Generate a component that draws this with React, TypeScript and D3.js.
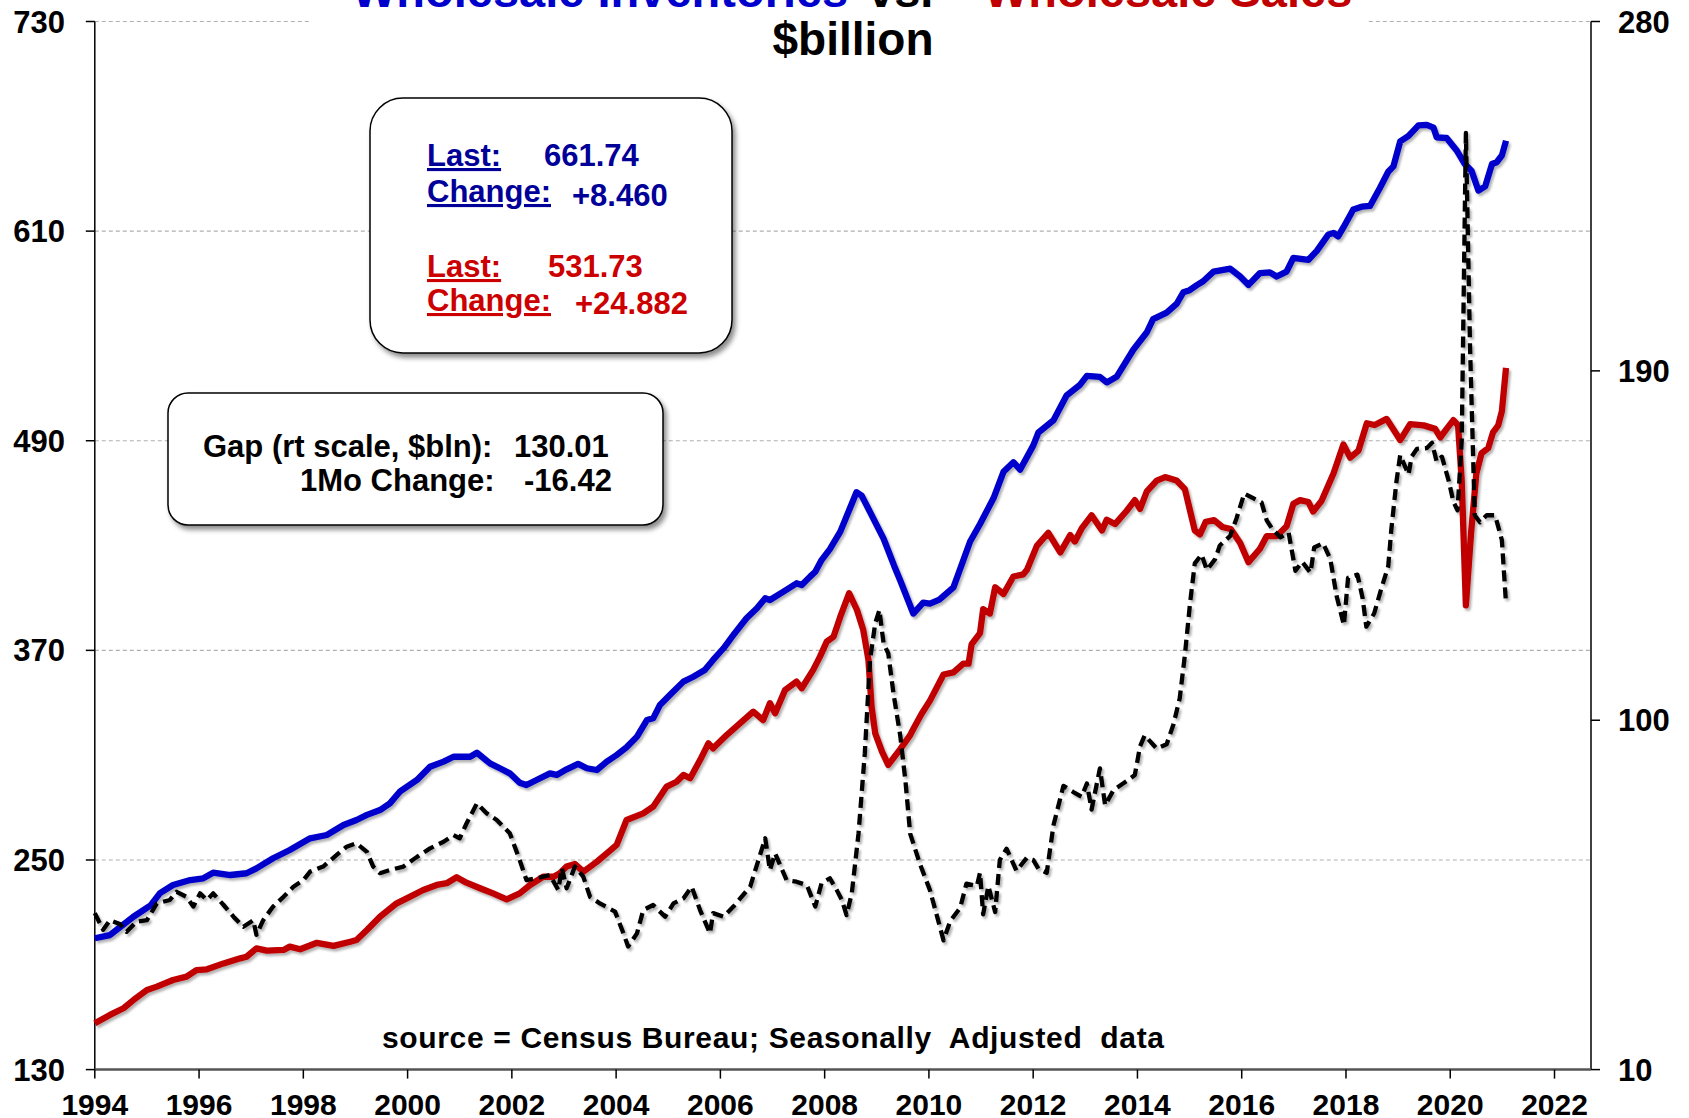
import React from "react";
import * as d3 from "d3";

// chart size, matches the browser window
const W = 1689;
const H = 1118;
const plot = { left: 94.8, right: 1591, top: 21.5, bottom: 1069.6 };

const leftTicks = [130, 250, 370, 490, 610, 730];
const rightTicks = [10, 100, 190, 280];
const yearTicks = [1994, 1996, 1998, 2000, 2002, 2004, 2006, 2008, 2010, 2012, 2014, 2016, 2018, 2020, 2022];

// [decimal year, $bln]
const inventories: [number, number][] = [
  [1994.0, 205.2], [1994.29, 207], [1994.42, 210], [1994.74, 217.5], [1995.07, 224], [1995.25, 231],
  [1995.5, 235.7], [1995.83, 238.5], [1996.08, 239.5], [1996.27, 242.7], [1996.6, 241.4], [1996.91, 242.4],
  [1997.1, 245.2], [1997.42, 251], [1997.74, 255.7], [1998.13, 262.4], [1998.45, 264.3], [1998.77, 270],
  [1999.02, 272.9], [1999.22, 275.8], [1999.47, 278.6], [1999.66, 282.4], [1999.85, 289.1], [2000.18, 295.8],
  [2000.43, 303.4], [2000.69, 306.3], [2000.88, 309.1], [2001.2, 309.1], [2001.33, 311.4], [2001.58, 305.3],
  [2001.77, 302.5], [2001.96, 299.6], [2002.15, 294.2], [2002.28, 292.9], [2002.54, 296.8], [2002.73, 299.6],
  [2002.86, 298.7], [2003.05, 301.9], [2003.27, 305], [2003.44, 302.5], [2003.63, 301.5], [2003.82, 306.3],
  [2004.01, 310.1], [2004.2, 314.5], [2004.4, 320.6], [2004.59, 330.1], [2004.71, 331.1], [2004.84, 338.7],
  [2005.03, 344.4], [2005.29, 352.1], [2005.48, 354.9], [2005.7, 358.8], [2005.86, 364.5], [2006.06, 371.2],
  [2006.25, 378.8], [2006.5, 388.4], [2006.7, 394.1], [2006.86, 399.8], [2006.95, 398.8], [2007.21, 403.6],
  [2007.46, 408.4], [2007.56, 407.4], [2007.72, 412.2], [2007.82, 415], [2007.94, 421.7], [2008.1, 428],
  [2008.3, 438], [2008.5, 452.5], [2008.61, 460.5], [2008.71, 458.6], [2008.92, 446.3], [2009.13, 434],
  [2009.33, 418.6], [2009.45, 410], [2009.7, 391.1], [2009.89, 397.3], [2010.02, 396.8], [2010.2, 399],
  [2010.47, 406.1], [2010.79, 432.3], [2010.98, 442.3], [2011.24, 457.2], [2011.43, 472.2], [2011.62, 477.7],
  [2011.75, 473.5], [2012.0, 487.2], [2012.1, 494.7], [2012.39, 501.7], [2012.64, 515.9], [2012.9, 522.1],
  [2013.03, 527.1], [2013.28, 526.6], [2013.41, 523.4], [2013.6, 526.6], [2013.92, 542.1], [2014.18, 552.1],
  [2014.3, 559.6], [2014.56, 563.3], [2014.75, 568.3], [2014.88, 575], [2015.0, 576.2], [2015.14, 579.1],
  [2015.26, 581.3], [2015.46, 586.8], [2015.78, 588.5], [2015.97, 584], [2016.13, 579.2], [2016.35, 586],
  [2016.54, 586.4], [2016.67, 584], [2016.86, 586.8], [2016.99, 594.7], [2017.28, 593.6], [2017.44, 598.7],
  [2017.66, 608], [2017.76, 609], [2017.85, 607], [2017.95, 612.1], [2018.14, 622.4], [2018.3, 624],
  [2018.46, 624.4], [2018.65, 634.7], [2018.81, 644], [2018.91, 647.1], [2019.04, 661.4], [2019.2, 664.5],
  [2019.39, 670.5], [2019.55, 670.8], [2019.68, 669.2], [2019.74, 663.7], [2019.93, 663.3], [2020.12, 656.3],
  [2020.28, 648.4], [2020.41, 644.4], [2020.54, 633.2], [2020.67, 635.6], [2020.8, 648.4], [2020.89, 649.4],
  [2020.99, 653.28], [2021.07, 661.74],
];

const sales: [number, number][] = [
  [1994.0, 156.5], [1994.29, 161.3], [1994.55, 165.1], [1994.74, 169.8], [1995.0, 175.6], [1995.19, 177.5],
  [1995.5, 181.3], [1995.76, 183.2], [1995.95, 187], [1996.15, 187.4], [1996.47, 190.8], [1996.79, 193.7],
  [1996.91, 194.6], [1997.1, 199.4], [1997.3, 198.1], [1997.62, 198.5], [1997.74, 200.4], [1997.94, 198.9],
  [1998.26, 202.6], [1998.58, 200.8], [1998.9, 203.2], [1999.02, 204.2], [1999.22, 209.9], [1999.47, 217.5],
  [1999.79, 225.2], [2000.05, 229], [2000.3, 232.8], [2000.56, 235.7], [2000.75, 236.7], [2000.94, 240.1],
  [2001.13, 237], [2001.39, 233.8], [2001.64, 230.9], [2001.9, 227.5], [2002.15, 230.9], [2002.35, 235.7],
  [2002.6, 240.4], [2002.8, 240.4], [2002.92, 242.4], [2003.05, 246.2], [2003.21, 247.7], [2003.37, 243.3],
  [2003.63, 249], [2003.82, 253.8], [2004.01, 258.6], [2004.2, 272.9], [2004.52, 276.7], [2004.71, 280.5],
  [2004.97, 292], [2005.16, 294.8], [2005.29, 298.7], [2005.42, 296.8], [2005.61, 307.2], [2005.77, 316.8],
  [2005.86, 313.9], [2006.12, 321.5], [2006.38, 328.3], [2006.63, 334.9], [2006.82, 330.1], [2006.95, 339.7],
  [2007.05, 334], [2007.24, 347.3], [2007.46, 352.1], [2007.56, 348.3], [2007.78, 358.8], [2007.91, 366.4],
  [2008.04, 375], [2008.17, 377.8], [2008.3, 389.3], [2008.47, 402.7], [2008.62, 393.1], [2008.74, 381.7],
  [2008.84, 364.5], [2008.9, 337.8], [2008.97, 322.5], [2009.1, 312], [2009.22, 304.4], [2009.45, 313.5],
  [2009.64, 321.5], [2009.7, 325], [2009.86, 333.7], [2010.02, 341.2], [2010.28, 356.2], [2010.47, 357.4],
  [2010.66, 362.4], [2010.76, 362.4], [2010.82, 373.6], [2010.98, 379.9], [2011.04, 393.6], [2011.17, 391.1],
  [2011.27, 406.1], [2011.43, 402.3], [2011.62, 412.3], [2011.81, 413.5], [2011.88, 416.1], [2012.07, 429.8],
  [2012.29, 437.3], [2012.52, 426.1], [2012.71, 436], [2012.8, 432.3], [2012.93, 439.8], [2013.12, 447.3],
  [2013.32, 438.6], [2013.41, 444.8], [2013.57, 442.3], [2013.79, 449.8], [2013.95, 456], [2014.05, 451],
  [2014.18, 461], [2014.37, 467.2], [2014.53, 469.2], [2014.75, 467.2], [2014.91, 462.3], [2015.01, 449.8],
  [2015.1, 438.6], [2015.2, 436.4], [2015.31, 443.6], [2015.47, 444.6], [2015.63, 440.6], [2015.79, 439.5],
  [2015.97, 431.5], [2016.13, 420.5], [2016.35, 428.2], [2016.48, 435.4], [2016.67, 435.4], [2016.86, 441],
  [2016.99, 453.9], [2017.12, 456], [2017.28, 454.9], [2017.37, 449.5], [2017.53, 455.5], [2017.76, 471.3],
  [2017.95, 487.9], [2018.08, 480.3], [2018.24, 484.4], [2018.4, 500], [2018.55, 499], [2018.78, 502.5],
  [2019.04, 490.4], [2019.23, 499.5], [2019.49, 498.8], [2019.71, 496.8], [2019.81, 491.9], [2019.93, 496.8],
  [2020.06, 501.8], [2020.15, 498.8], [2020.22, 467.1], [2020.3, 395.8], [2020.4, 437.4], [2020.5, 471.1],
  [2020.6, 482.9], [2020.73, 485.9], [2020.82, 494.8], [2020.92, 498.8], [2020.99, 506.85], [2021.07, 531.73],
];

// inventories minus sales, right scale
const gap: [number, number][] = [
  [1994.0, 50.3], [1994.16, 46], [1994.29, 48.5], [1994.48, 47.5], [1994.61, 45.5], [1994.8, 48.1],
  [1995.0, 48.5], [1995.19, 52.8], [1995.44, 53.7], [1995.57, 55.8], [1995.76, 54.5], [1995.89, 52],
  [1996.02, 55.4], [1996.15, 53.7], [1996.27, 55.4], [1996.47, 52.4], [1996.66, 49.4], [1996.85, 46.8],
  [1997.04, 48.5], [1997.1, 44.7], [1997.23, 48.5], [1997.42, 52], [1997.62, 54.5], [1997.81, 57.1],
  [1998.0, 58.8], [1998.13, 61], [1998.38, 62.3], [1998.64, 65.3], [1998.83, 67.4], [1999.02, 68.3],
  [1999.22, 66.1], [1999.34, 62.3], [1999.47, 60.6], [1999.66, 61.4], [1999.92, 62.3], [2000.18, 64.8],
  [2000.43, 67], [2000.69, 68.7], [2000.88, 70.4], [2001.0, 69.6], [2001.13, 73.4], [2001.33, 78.6],
  [2001.52, 76], [2001.71, 74.3], [2001.9, 71.7], [2001.96, 70.9], [2002.15, 64], [2002.28, 58.8],
  [2002.48, 59.3], [2002.73, 60.1], [2002.89, 56.3], [2002.96, 61.9], [2003.05, 56.7], [2003.21, 62.3],
  [2003.37, 59.7], [2003.5, 54.5], [2003.69, 52.8], [2003.98, 50.7], [2004.14, 45.1], [2004.23, 41.7],
  [2004.4, 45.1], [2004.52, 51.1], [2004.71, 52.4], [2004.94, 49.4], [2005.1, 52.8], [2005.29, 54.1],
  [2005.45, 57.1], [2005.61, 51.1], [2005.8, 45.1], [2005.86, 50.3], [2006.06, 49.4], [2006.25, 52],
  [2006.38, 54.1], [2006.57, 57.1], [2006.73, 64], [2006.86, 69.6], [2006.95, 61.4], [2007.05, 65.7],
  [2007.27, 58.8], [2007.46, 58.4], [2007.66, 57.5], [2007.82, 52], [2007.94, 58], [2008.1, 59.3],
  [2008.23, 56.3], [2008.33, 53.7], [2008.42, 49.8], [2008.52, 55.4], [2008.65, 70.9], [2008.77, 91.5],
  [2008.87, 115.5], [2008.97, 125], [2009.05, 128.4], [2009.13, 119.8], [2009.22, 117.2], [2009.32, 106.9],
  [2009.45, 96], [2009.55, 84.3], [2009.64, 70.8], [2009.83, 62.9], [2010.02, 56.2], [2010.18, 48.3],
  [2010.28, 43.3], [2010.41, 48.3], [2010.6, 51.7], [2010.72, 57.9], [2010.92, 57.3], [2010.98, 60.7],
  [2011.04, 50], [2011.14, 57.3], [2011.27, 50.6], [2011.36, 64], [2011.49, 66.9], [2011.68, 61.2],
  [2011.88, 64.6], [2012.0, 64], [2012.1, 61.8], [2012.26, 60.7], [2012.39, 73], [2012.58, 83.1],
  [2012.77, 81.5], [2012.93, 80.3], [2013.03, 83.7], [2013.12, 77], [2013.28, 87.6], [2013.38, 78.1],
  [2013.54, 82], [2013.79, 84.3], [2013.95, 85.9], [2014.05, 93.3], [2014.14, 96.1], [2014.37, 92.7],
  [2014.56, 93.8], [2014.69, 98.9], [2014.81, 105.6], [2014.91, 116.8], [2015.01, 130.3], [2015.1, 140.4],
  [2015.23, 142.7], [2015.33, 138.7], [2015.49, 141.5], [2015.58, 145], [2015.78, 147.5], [2015.9, 152],
  [2016.05, 158.4], [2016.22, 157.2], [2016.38, 156.1], [2016.48, 151.5], [2016.58, 149.4], [2016.74, 147.1],
  [2016.9, 148.3], [2017.03, 138.5], [2017.16, 140.8], [2017.32, 138], [2017.39, 144.5], [2017.56, 145.6],
  [2017.7, 141.5], [2017.82, 132], [2017.96, 124.5], [2018.04, 136.7], [2018.22, 137.5], [2018.32, 131.4],
  [2018.39, 124.1], [2018.54, 127.5], [2018.68, 134], [2018.81, 139.6], [2018.87, 149.2], [2018.97, 161.7],
  [2019.04, 168.3], [2019.2, 163.3], [2019.26, 167.9], [2019.36, 169.9], [2019.55, 170.1], [2019.65, 171.5],
  [2019.74, 166.6], [2019.84, 167.9], [2019.97, 161.7], [2020.06, 156.3], [2020.14, 154.1], [2020.22, 172],
  [2020.3, 251.3], [2020.38, 196], [2020.47, 152.8], [2020.57, 151], [2020.7, 152.8], [2020.86, 152.8],
  [2020.99, 146.43], [2021.07, 130.01],
];

const FONT = "'Liberation Sans', Arial, Helvetica, sans-serif";
const BLUE = "#0000CC";
const RED = "#C00000";

export default function App() {
  const x = d3.scaleLinear().domain([1994, 2022.7]).range([plot.left, plot.right]);
  const yL = d3.scaleLinear().domain([130, 730]).range([plot.bottom, plot.top]);
  const yR = d3.scaleLinear().domain([10, 280]).range([plot.bottom, plot.top]);

  const lineL = d3
    .line<[number, number]>()
    .x((d) => x(d[0]))
    .y((d) => yL(d[1]));
  const lineR = d3
    .line<[number, number]>()
    .x((d) => x(d[0]))
    .y((d) => yR(d[1]));

  return (
    <svg
      width={W}
      height={H}
      style={{ position: "absolute", left: 0, top: 0, background: "#fff" }}
      fontFamily={FONT}
      fontWeight="bold"
    >
      <defs>
        <filter id="lineShadow" filterUnits="userSpaceOnUse" x={0} y={0} width={W} height={H}>
          <feDropShadow dx={2} dy={2.5} stdDeviation={1.2} floodColor="#000" floodOpacity={0.3} />
        </filter>
        <filter id="boxShadow" filterUnits="userSpaceOnUse" x={0} y={0} width={W} height={H}>
          <feDropShadow dx={3} dy={4} stdDeviation={2.5} floodColor="#000" floodOpacity={0.45} />
        </filter>
      </defs>
      <rect width={W} height={H} fill="#fff" />

      {/* grid */}
      {leftTicks.slice(1).map((t) => (
        <line
          key={t}
          x1={plot.left}
          x2={plot.right}
          y1={yL(t)}
          y2={yL(t)}
          stroke="#b0b0b0"
          strokeWidth={1.2}
          strokeDasharray="4 3"
        />
      ))}

      {/* title, white backed so it hides the top gridline */}
      <rect x={312} y={0} width={1056} height={28} fill="#fff" />
      <text y={7} fontSize={47}>
        <tspan x={352} fill={BLUE}>Wholesale Inventories</tspan>
        <tspan x={868} fill="#000">vs.</tspan>
        <tspan x={984} fill={RED}>Wholesale Sales</tspan>
      </text>
      <text x={853} y={55} fontSize={46} textAnchor="middle">
        $billion
      </text>

      {/* axes */}
      <line x1={plot.left} x2={plot.left} y1={plot.top} y2={plot.bottom} stroke="#000" strokeWidth={1.5} />
      <line x1={plot.right} x2={plot.right} y1={plot.top} y2={plot.bottom} stroke="#000" strokeWidth={1.5} />
      <line x1={plot.left} x2={plot.right} y1={plot.bottom} y2={plot.bottom} stroke="#555" strokeWidth={2.5} />

      {leftTicks.map((t) => (
        <g key={t}>
          <line x1={plot.left - 9} x2={plot.left} y1={yL(t)} y2={yL(t)} stroke="#000" strokeWidth={1.5} />
          <text x={65} y={yL(t) + 11} fontSize={31} textAnchor="end">
            {t}
          </text>
        </g>
      ))}
      {rightTicks.map((t) => (
        <g key={t}>
          <line x1={plot.right} x2={plot.right + 9} y1={yR(t)} y2={yR(t)} stroke="#000" strokeWidth={1.5} />
          <text x={1618} y={yR(t) + 11} fontSize={31}>
            {t}
          </text>
        </g>
      ))}
      {yearTicks.map((t) => (
        <g key={t}>
          <line x1={x(t)} x2={x(t)} y1={plot.bottom} y2={plot.bottom + 9} stroke="#000" strokeWidth={1.5} />
          <text x={x(t)} y={1115} fontSize={30} textAnchor="middle">
            {t}
          </text>
        </g>
      ))}

      {/* series */}
      <g filter="url(#lineShadow)" fill="none" strokeLinejoin="round">
        <path d={lineL(inventories) ?? ""} stroke={BLUE} strokeWidth={6.3} />
        <path d={lineL(sales) ?? ""} stroke={RED} strokeWidth={6.3} />
        <path d={lineR(gap) ?? ""} stroke="#000" strokeWidth={4.3} strokeDasharray="11 6" />
      </g>

      {/* last value box */}
      <rect x={370} y={98} width={362} height={255} rx={33} fill="#fff" stroke="#000" strokeWidth={1.5} filter="url(#boxShadow)" />
      <g fontSize={31}>
        <text x={427} y={166} fill="#000099" textDecoration="underline">Last:</text>
        <text x={544} y={166} fill="#000099">661.74</text>
        <text x={427} y={202} fill="#000099" textDecoration="underline">Change:</text>
        <text x={572} y={206} fill="#000099">+8.460</text>
        <text x={427} y={277} fill="#CC0000" textDecoration="underline">Last:</text>
        <text x={548} y={277} fill="#CC0000">531.73</text>
        <text x={427} y={311} fill="#CC0000" textDecoration="underline">Change:</text>
        <text x={575} y={314} fill="#CC0000">+24.882</text>
      </g>

      {/* gap box */}
      <rect x={168} y={393} width={495} height={132} rx={20} fill="#fff" stroke="#000" strokeWidth={1.5} filter="url(#boxShadow)" />
      <g fontSize={31} fill="#000">
        <text x={203} y={457}>Gap (rt scale, $bln):</text>
        <text x={514} y={457}>130.01</text>
        <text x={300} y={491}>1Mo Change:</text>
        <text x={524} y={491}>-16.42</text>
      </g>

      <text
        x={382}
        y={1048}
        fontSize={30}
        textLength={782}
        lengthAdjust="spacing"
        style={{ whiteSpace: "pre" }}
      >
        source = Census Bureau; Seasonally  Adjusted  data
      </text>
    </svg>
  );
}
